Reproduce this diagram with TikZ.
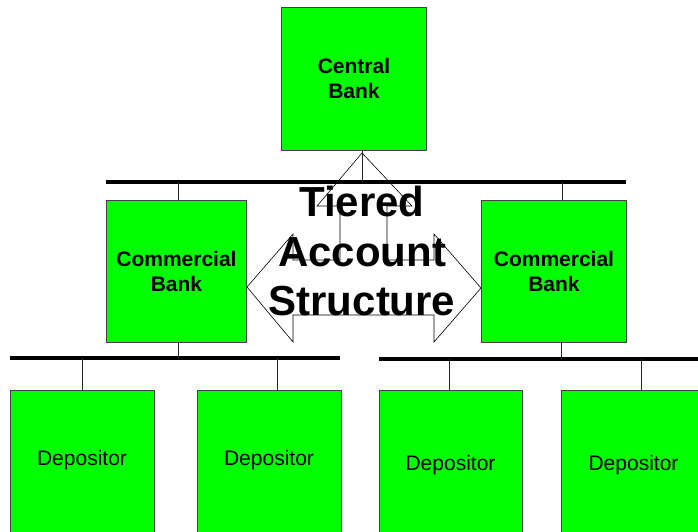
\documentclass[tikz,border=0pt]{standalone}
\usepackage{fontspec}
\setmainfont{Liberation Sans}
\begin{document}
\begin{tikzpicture}[x=1pt,y=-1pt,
  box/.style={draw=black!75,line width=0.9pt,fill=green,inner sep=0pt,anchor=north west,
    align=center,font=\bfseries\fontsize{21}{25}\selectfont},
  deptext/.style={anchor=base,inner sep=0pt,font=\fontsize{21}{25}\selectfont},
  bar/.style={line width=4pt,black},
  conn/.style={line width=0.9pt,black!85},
  blockarrow/.style={draw=black,line width=0.6pt}]
\useasboundingbox (0,0) rectangle (698,531);
% three-way block arrow
\draw[blockarrow] (247,287) -- (293,234) -- (293,260) -- (340,260) -- (340,206) -- (317,206)
  -- (362,153) -- (412,206) -- (387,206) -- (387,260) -- (434,260) -- (434,234)
  -- (481,288) -- (434,342) -- (434,315) -- (293,315) -- (293,342) -- cycle;
% boxes
\node[box,minimum width=145pt,minimum height=143pt] (cb) at (281,7) {Central\\Bank};
\node[box,minimum width=140pt,minimum height=142pt] (cl) at (106,200) {Commercial\\Bank};
\node[box,minimum width=145pt,minimum height=142pt] (cr) at (481,200) {Commercial\\Bank};
\node[box,minimum width=144pt,minimum height=150pt] (d1) at (10,390) {};
\node[box,minimum width=144pt,minimum height=150pt] (d2) at (197,390) {};
\node[box,minimum width=143pt,minimum height=150pt] (d3) at (379,390) {};
\node[box,minimum width=145pt,minimum height=150pt] (d4) at (561,390) {};
\node[deptext] (t1) at (82,465) {Depositor};
\node[deptext] (t2) at (269,465) {Depositor};
\node[deptext] (t3) at (450.5,470) {Depositor};
\node[deptext] (t4) at (633.5,470) {Depositor};
% bars
\coordinate (b1w) at (106,182); \coordinate (b1e) at (626,182);
\coordinate (b2w) at (10,358);  \coordinate (b2e) at (340,358);
\coordinate (b3w) at (379,359); \coordinate (b3e) at (700,359);
\draw[bar] (b1w) -- (b1e);
\draw[bar] (b2w) -- (b2e);
\draw[bar] (b3w) -- (b3e);
% connector tap points
\coordinate (k0) at (362,182);
\coordinate (k1) at (178,182);
\coordinate (k2) at (562,182);
\coordinate (k3) at (178,358);
\coordinate (k4) at (561,359);
\coordinate (k5) at (82,358);
\coordinate (k6) at (277,358);
\coordinate (k7) at (449,359);
\coordinate (k8) at (641,359);
\draw[conn] (cb.south -| k0) -- (k0);
\draw[conn] (k1) -- (k1 |- cl.north);
\draw[conn] (k2) -- (k2 |- cr.north);
\draw[conn] (cl.south -| k3) -- (k3);
\draw[conn] (cr.south -| k4) -- (k4);
\draw[conn] (k5) -- (k5 |- d1.north);
\draw[conn] (k6) -- (k6 |- d2.north);
\draw[conn] (k7) -- (k7 |- d3.north);
\draw[conn] (k8) -- (k8 |- d4.north);
% title
\node[inner sep=0pt,align=center,font=\bfseries\fontsize{42}{49.5}\selectfont] (title) at (362,251)
  {Tiered\\Account\\Structure};
\end{tikzpicture}
\end{document}
